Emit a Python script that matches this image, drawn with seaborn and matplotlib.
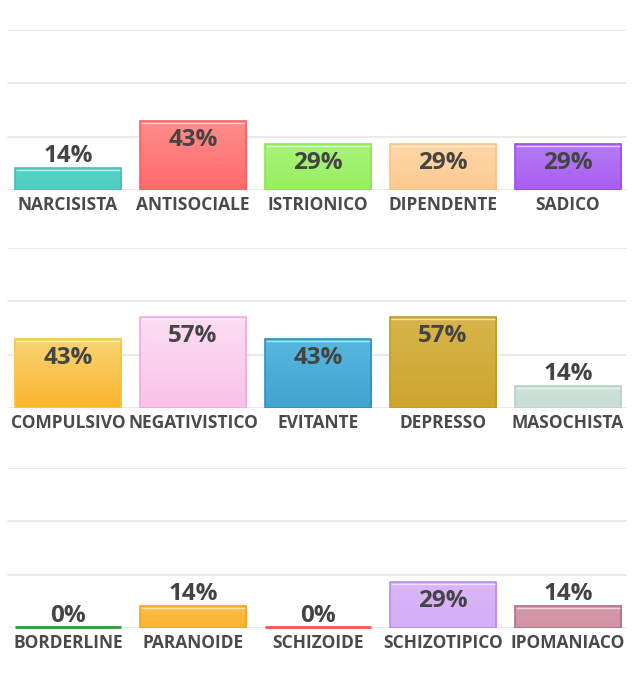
import numpy as np
import matplotlib
matplotlib.use("Agg")
import matplotlib.pyplot as plt
import matplotlib.transforms as mtransforms
from matplotlib.colors import LinearSegmentedColormap
import seaborn as sns

# ---- data ----
row1_cats = ["NARCISISTA", "ANTISOCIALE", "ISTRIONICO", "DIPENDENTE", "SADICO"]
row1_vals = [14, 43, 29, 29, 29]
row2_cats = ["COMPULSIVO", "NEGATIVISTICO", "EVITANTE", "DEPRESSO", "MASOCHISTA"]
row2_vals = [43, 57, 43, 57, 14]
row3_cats = ["BORDERLINE", "PARANOIDE", "SCHIZOIDE", "SCHIZOTIPICO", "IPOMANIACO"]
row3_vals = [0, 14, 0, 29, 14]

# (top colour, bottom colour, edge colour)
row1_colors = [("#56D3C7", "#4ECDC2", "#45BFB3"),
               ("#FF8C8C", "#FF6A6A", "#FF6060"),
               ("#A8F57A", "#98EE60", "#8CE650"),
               ("#FFD8A8", "#FDC991", "#FCC183"),
               ("#B47CF6", "#A85EF0", "#9A4FE8")]
row2_colors = [("#F8D575", "#FDB42C", "#F8C830"),
               ("#FCDEF2", "#F9C2EA", "#F5A8DE"),
               ("#57B7DE", "#40A4D0", "#2A93C6"),
               ("#D8B64C", "#CEA42E", "#C49A20"),
               ("#CDE2D9", "#C8DED5", "#B5D4C8")]
row3_colors = [("#2E9A2E", "#2E9A2E", "#2E9A2E"),
               ("#FFBE48", "#FFB32E", "#F5A520"),
               ("#FF5A5A", "#FF5A5A", "#FF5050"),
               ("#DAB6F8", "#D5AEF7", "#B88BEA"),
               ("#D699A9", "#D193A3", "#B66C82")]

rows = [(row1_cats, row1_vals, row1_colors),
        (row2_cats, row2_vals, row2_colors),
        (row3_cats, row3_vals, row3_colors)]

sns.set_theme(style="white")
plt.rcParams["font.family"] = ["Open Sans", "DejaVu Sans"]

W, H = 635, 690
fig = plt.figure(figsize=(W / 100, H / 100), dpi=100)
fig.patch.set_facecolor("white")

baselines = [190, 408, 628]
plot_h = 160
left_px, width_px = 5.5, 625

text_color = "#444444"
label_color = "#4A4A4A"

for (cats, vals, cols), base in zip(rows, baselines):
    ax = fig.add_axes([left_px / W, 1 - base / H, width_px / W, plot_h / H])
    sns.barplot(x=cats, y=vals, hue=cats, palette=[c[1] for c in cols],
                legend=False, width=0.85, ax=ax, saturation=1, zorder=3)
    ax.set_ylim(0, 100)
    ax.set_xlim(-0.5, len(cats) - 0.5)
    for s in ax.spines.values():
        s.set_visible(False)
    ax.set_yticks([])
    ax.set_ylabel("")
    ax.set_xlabel("")
    # gridlines
    gx0 = (8 - left_px) / width_px
    gx1 = (626 - left_px) / width_px
    for t in [0, 100 / 3, 200 / 3, 100]:
        ax.axhline(t, xmin=gx0, xmax=gx1, color="#E6E6E6", lw=1.2, zorder=1)

    hl = mtransforms.offset_copy(ax.transData, fig=fig, y=-2, units="dots")
    zl = mtransforms.offset_copy(ax.transData, fig=fig, y=1, units="dots")
    for patch, v, (ctop, cbot, cedge) in zip(ax.patches, vals, cols):
        x0, y0 = patch.get_x(), patch.get_y()
        w, h = patch.get_width(), patch.get_height()
        patch.set_edgecolor(cedge)
        patch.set_linewidth(1.2)
        if h > 0:
            cmap = LinearSegmentedColormap.from_list("g", [cbot, ctop])
            grad = np.linspace(0, 1, 256).reshape(-1, 1)
            im = ax.imshow(grad, extent=[x0, x0 + w, y0, y0 + h], origin="lower",
                           aspect="auto", cmap=cmap, zorder=2.9,
                           interpolation="bilinear")
            im.set_clip_path(patch)
            patch.set_facecolor("none")
            ax.plot([x0 + 0.01, x0 + w - 0.01], [y0 + h, y0 + h], color="white",
                    alpha=0.6, lw=1, transform=hl, zorder=4, solid_capstyle="butt")
        else:
            patch.set_visible(False)
            ax.plot([x0, x0 + w], [y0, y0], color=cedge, lw=2, transform=zl,
                    zorder=4, solid_capstyle="butt", clip_on=False)
        cx = x0 + w / 2
        if v >= 25:
            ax.annotate(f"{v}%", xy=(cx, v), xytext=(0, -25), textcoords="offset pixels",
                        ha="center", va="baseline", fontsize=17.5, fontweight="bold",
                        color=text_color, zorder=5)
        else:
            ax.annotate(f"{v}%", xy=(cx, v), xytext=(0, 6), textcoords="offset pixels",
                        ha="center", va="baseline", fontsize=17.5, fontweight="bold",
                        color=text_color, zorder=5)
    ax.set_xlim(-0.5, len(cats) - 0.5)
    ax.set_ylim(0, 100)
    ax.set_xticks(range(len(cats)))
    ax.set_xticklabels(cats, fontsize=12.5, fontweight="bold", color=label_color)
    ax.tick_params(axis="x", length=0, pad=4.5)
    ax.set_facecolor("none")

fig.savefig("out.png", dpi=100, facecolor="white")
